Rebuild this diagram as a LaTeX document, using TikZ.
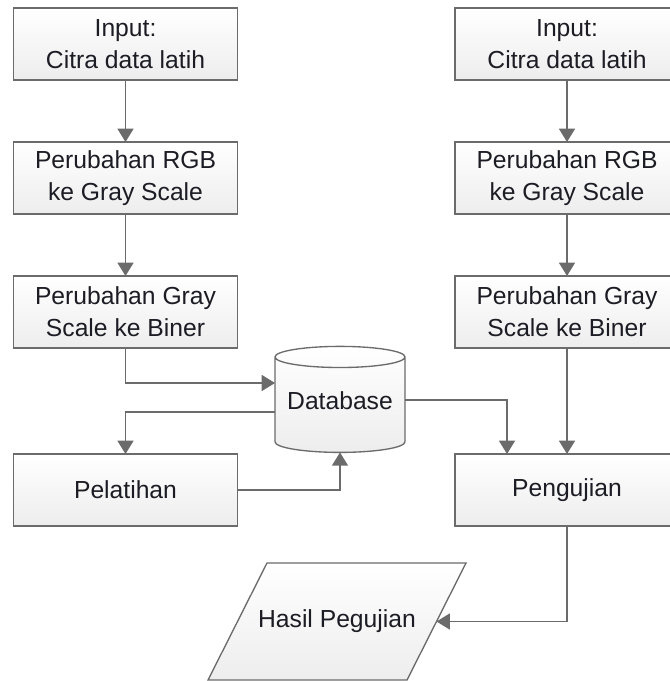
\documentclass[tikz,border=0pt]{standalone}
\usepackage{fontspec}
\setmainfont{Liberation Sans}
\usetikzlibrary{positioning}
\usetikzlibrary{arrows.meta}
\usetikzlibrary{shapes.geometric}
\usetikzlibrary{backgrounds}

\definecolor{edge}{HTML}{6B6B6B}
\definecolor{ink}{HTML}{1C1C24}

\tikzset{
	face/.style={draw=edge, line width=1pt, top color=white, bottom color=black!7},
	box/.style={face,
		minimum width=168pt, minimum height=54pt, inner sep=0pt, outer sep=0pt,
		text=ink, font=\fontsize{18.5}{24}\selectfont, align=center},
	dbase/.style={box, cylinder, shape border rotate=90, aspect=0.2,
		minimum width=97.5pt, minimum height=79.5pt},
	outbox/.style={minimum width=149.25pt, minimum height=87.75pt, inner sep=0pt, outer sep=0pt,
		text=ink, font=\fontsize{18.5}{24}\selectfont},
	flow/.style={draw=edge, line width=1.1pt, ->}
}

\begin{document}
\begin{tikzpicture}
	[x=0.75pt, y=-0.75pt,
	node distance=46.5pt and 163.5pt,
	>={Triangle[width=12pt, length=10pt]}]
	
	\clip (0,0) rectangle (670,681);
	\useasboundingbox (0,0) rectangle (670,681);
	
	% training side
	\node [box] (inL) at (125.5,44) {Input:\\ Citra data latih};
	\node [box, below=of inL] (grayL) {Perubahan RGB\\ ke Gray Scale};
	\node [box, below=of grayL] (binL) {Perubahan Gray\\ Scale ke Biner};
	\node [box, below=79.5pt of binL] (train) {Pelatihan};
	
	% testing side
	\node [box] (inR) at (567,44) {Input:\\ Citra data latih};
	\node [box, below=of inR] (grayR) {Perubahan RGB\\ ke Gray Scale};
	\node [box, below=of grayR] (binR) {Perubahan Gray\\ Scale ke Biner};
	\node [box, below=79.5pt of binR] (test) {Pengujian};
	
	% storage and result
	\node [dbase] (db) at (340,405) {\raisebox{6pt}{Database}};
	\node [outbox] (result) at (337,621.5) {Hasil Pegujian};
	\begin{scope}[on background layer]
		\path [face] ([xshift=22.125pt]result.north west) -- ([xshift=22.125pt]result.north east)
			-- ([xshift=-22.125pt]result.south east) -- ([xshift=-22.125pt]result.south west) -- cycle;
	\end{scope}
	
	% straight arrows
	\draw [flow] (inL) -- (grayL);
	\draw [flow] (grayL) -- (binL);
	\draw [flow] (inR) -- (grayR);
	\draw [flow] (grayR) -- (binR);
	\draw [flow] (binR) -- (test);
	
	% elbow arrows
	\draw [flow] (binL) |- ([yshift=16.5pt]db.west);
	\draw [flow] ([yshift=-5.25pt]db.west) -| (train);
	\draw [flow] (train) -| (db);
	\draw [flow] ([yshift=3.75pt]db.east) -| ([xshift=-45pt]test.north);
	\draw [flow] (test) |- (result);
\end{tikzpicture}
\end{document}
